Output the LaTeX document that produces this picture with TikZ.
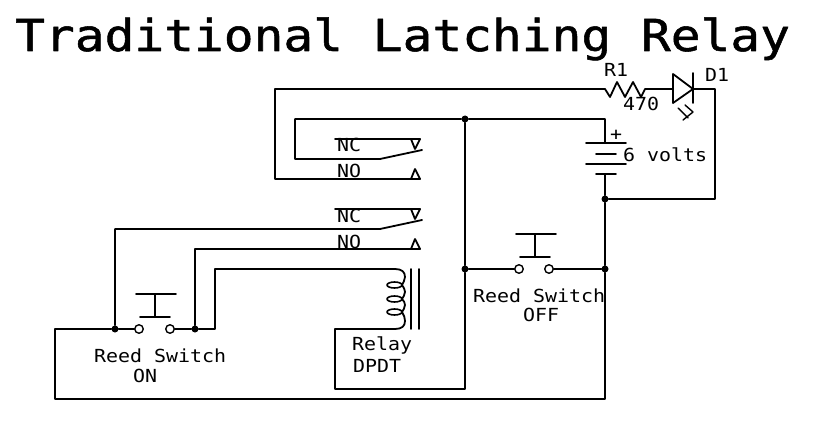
\documentclass[tikz,border=0pt]{standalone}
\usepackage{fontspec}
\newfontfamily\lblfont[FakeStretch=1.107]{DejaVu Sans Mono}
\newfontfamily\titlefont[FakeStretch=1.125,FakeBold=1.2]{DejaVu Sans Mono}
\tikzset{
  wire/.style={line width=1.8pt},
  dot/.style={circle,fill=black,inner sep=0pt,minimum size=7pt},
  contact/.style={circle,draw,line width=1.4pt,fill=white,inner sep=0pt,minimum size=8.5pt},
  lbl/.style={anchor=base west,inner sep=0pt,font=\lblfont\fontsize{18}{18}\selectfont},
  heading/.style={anchor=base west,inner sep=0pt,font=\titlefont\fontsize{44}{44}\selectfont},
}
\begin{document}
\begin{tikzpicture}[x=1pt,y=-1pt,line cap=round,line join=round]
\useasboundingbox(0,0)rectangle(821,422);
\node[heading](title)at(15,51){Traditional Latching Relay};
% junctions
\node[dot](jtop)at(465,119){};
\node[dot](jmid)at(465,269){};
\node[dot](jbat)at(605,199){};
\node[dot](jright)at(605,269){};
\node[dot](jon)at(115,329){};
\node[dot](jno)at(195,329){};
% push switches
\node[contact](onl)at(139,329){};
\node[contact](onr)at(170,329){};
\node[contact](offl)at(519,269){};
\node[contact](offr)at(549,269){};
% wires
\draw[wire](605,89)--(275,89)--(275,179)--(420,179);
\draw[wire](605,143)--(605,119)--(jtop)--(295,119)--(295,159)--(380,159)--(422,150);
\draw[wire](jtop)--(jmid)--(465,389)--(335,389)--(335,329)--(395,329);
\draw[wire](jmid)--(offl)(offr)--(jright);
\draw[wire](605,174)--(jbat)--(jright)--(605,399)--(55,399)--(55,329)--(jon)--(onl);
\draw[wire](onr)--(jno)--(215,329)--(215,269)--(395,269);
\draw[wire](jon)--(115,229)--(380,229)--(422,220);
\draw[wire](jno)--(195,249)--(420,249);
\draw[wire](jbat)--(715,199)--(715,89)--(693,89);
\draw[wire](335,139)--(420,139);
\draw[wire](335,209)--(420,209);
% relay contacts
\foreach \y in{139,209}
\draw[wire](411,\y)--(415,\y+10)--(420,\y);
\foreach \y in{179,249}
\draw[wire](411,\y)--(415,\y-10)--(420,\y);
% coil and core
\draw[wire](395,269)..controls(402,269)and(405,272)..(405,277)..controls(405,280)and(403,283)..(402,285)
..controls(404,288)and(405,290)..(405,292)..controls(405,295)and(403,297)..(402,299)
..controls(404,301)and(405,303)..(405,305)..controls(405,308)and(403,310)..(402,312)
..controls(404,315)and(405,318)..(405,321)..controls(405,326)and(402,329)..(395,329);
\foreach \y in{285,299,312}
\draw[line width=1.6pt](394.5,\y)ellipse[x radius=7.5,y radius=3];
\draw[wire](411,269)--(411,329)(419,269)--(419,329);
% push buttons
\draw[wire](136,294)--(176,294)(155,294)--(155,317)(140,317)--(170,317);
\draw[wire](516,234)--(556,234)(535,234)--(535,257)(520,257)--(550,257);
% battery
\draw[wire](586,143)--(626,143)(596,154)--(616,154)(586,164)--(626,164)(596,174)--(616,174);
% resistor and led
\draw[wire](605,89)--(610,97)--(617,82)--(625,97)--(633,82)--(641,97)--(645,89)--(673,89);
\draw[wire](673,74)--(693,89)--(673,103)--cycle(693,73)--(693,103);
\draw[line width=1.4pt](678,108)--(688,118)(685,105)--(693,112)(683,120)--(693,112);
% labels
\node[lbl](lr)at(604,77){R1};
\node[lbl](lrv)at(623,111){470};
\node[lbl](ld)at(705,82){D1};
\node[lbl](lplus)at(610,141){+};
\node[lbl](lbat)at(623,162){6 volts};
\node[lbl](lnca)at(337,152){NC};
\node[lbl](lnoa)at(337,178){NO};
\node[lbl](lncb)at(337,222){NC};
\node[lbl](lnob)at(337,248){NO};
\node[lbl](lrelay)at(352,350){Relay};
\node[lbl](ldpdt)at(353,372){DPDT};
\node[lbl](lon)at(94,362){Reed Switch};
\node[lbl](lonb)at(133,382){ON};
\node[lbl](loff)at(473,302){Reed Switch};
\node[lbl](loffb)at(523,321){OFF};
\end{tikzpicture}
\end{document}
